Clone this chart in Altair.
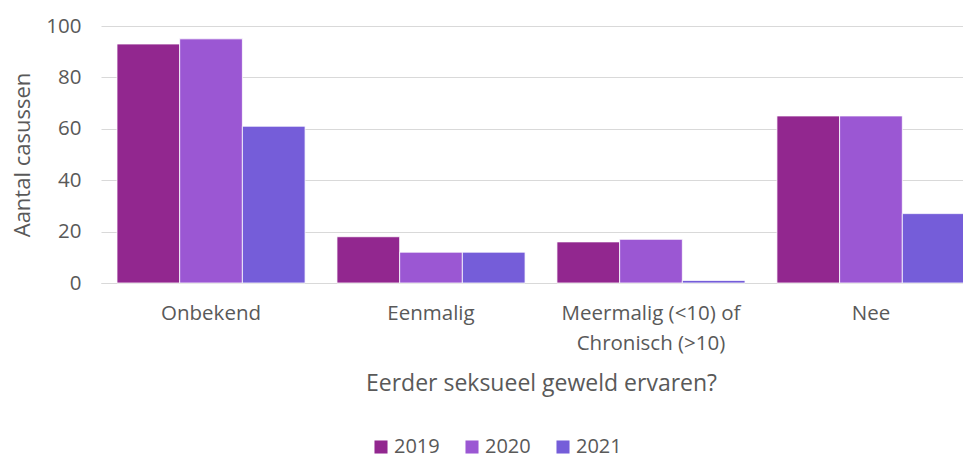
import altair as alt
import pandas as pd

categories = ["Onbekend", "Eenmalig", "Meermalig (<10) of Chronisch (>10)", "Nee"]
years = ["2019", "2020", "2021"]
v2019 = [93, 18, 16, 65]
v2020 = [95, 12, 17, 65]
v2021 = [61, 12, 1, 27]
colors = ["#92278F", "#9B57D3", "#755DD9"]

rows = []
for i, c in enumerate(categories):
    for y, vals in zip(years, [v2019, v2020, v2021]):
        rows.append({"cat": c, "year": y, "value": vals[i]})
df = pd.DataFrame(rows)

FONT = "Open Sans"
GREY = "#595959"

chart = alt.Chart(df).mark_bar(stroke="white", strokeWidth=0.8).encode(
    x=alt.X("cat:N", sort=categories,
            scale=alt.Scale(paddingInner=0.145, paddingOuter=0.0727),
            axis=alt.Axis(title="Eerder seksueel geweld ervaren?", labelAngle=0,
                          labelExpr="datum.value == 'Meermalig (<10) of Chronisch (>10)' ? ['Meermalig (<10) of', 'Chronisch (>10)'] : datum.value",
                          labelFontSize=20.5, labelColor=GREY, labelPadding=20,
                          labelLineHeight=30, ticks=False,
                          domainColor="#D9D9D9", domainWidth=1,
                          titleFontSize=23, titleColor=GREY, titleFontWeight="normal",
                          titlePadding=19, titleX=440)),
    xOffset=alt.XOffset("year:N", sort=years, scale=alt.Scale(paddingInner=0, paddingOuter=0)),
    y=alt.Y("value:Q", scale=alt.Scale(domain=[0, 100]),
            axis=alt.Axis(title="Aantal casussen", values=[0, 20, 40, 60, 80, 100],
                          labelFontSize=20.5, labelColor=GREY, labelPadding=20,
                          ticks=False, domain=False, gridColor="#D9D9D9", gridWidth=1,
                          titleFontSize=22, titleColor=GREY, titleFontWeight="normal",
                          titlePadding=11)),
    color=alt.Color("year:N", sort=years, scale=alt.Scale(domain=years, range=colors),
                    legend=alt.Legend(title=None, orient="none", direction="horizontal",
                                      legendX=270, legendY=411,
                                      symbolType="square", symbolSize=170, symbolStrokeWidth=0,
                                      labelFontSize=20, labelColor=GREY, columnPadding=22,
                                      labelOffset=3)),
).properties(
    width=880, height=257,
    autosize=alt.AutoSizeParams(type="none"),
    padding={"left": 93, "top": 18, "right": -18, "bottom": 184},
).configure(font=FONT).configure_view(stroke=None)

chart.save("out.html", embed_options={"renderer": "svg", "actions": False})
